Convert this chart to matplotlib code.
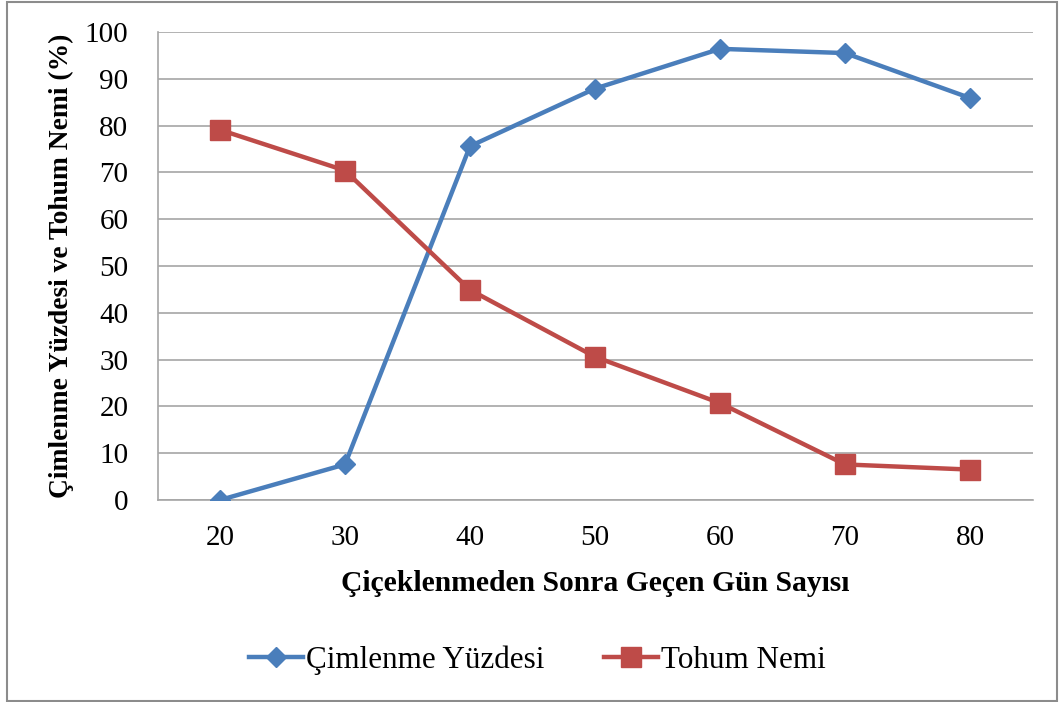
import matplotlib
matplotlib.use('Agg')
import matplotlib.pyplot as plt
from matplotlib.patches import Rectangle

plt.rcParams['font.family'] = ['Liberation Serif', 'DejaVu Serif']

days = ['20', '30', '40', '50', '60', '70', '80']
cimlenme = [0.0, 7.6, 75.6, 87.9, 96.4, 95.5, 85.9]
nem = [79.1, 70.4, 44.9, 30.6, 20.7, 7.6, 6.5]
y_ticks = [0, 10, 20, 30, 40, 50, 60, 70, 80, 90, 100]

blue = '#4a7ebb'
red = '#be4b48'
grid_c = '#a6a6a6'

fig = plt.figure(figsize=(10.59, 7.02), dpi=100)
ax = fig.add_axes([157.5 / 1059, 1 - 500 / 702, 875 / 1059, 468 / 702])

x = list(range(len(days)))
ax.plot(x, cimlenme, color=blue, linewidth=3.2, marker='D', markersize=10.5,
        label='Çimlenme Yüzdesi', zorder=3)
ax.plot(x, nem, color=red, linewidth=3.2, marker='s', markersize=14.5,
        label='Tohum Nemi', zorder=3)

ax.set_xlim(-0.5, len(days) - 0.5)
ax.set_ylim(0, 100)
ax.set_xticks(x)
ax.set_xticklabels(days)
ax.set_yticks(y_ticks)
ax.tick_params(axis='both', length=0, labelsize=21)
ax.tick_params(axis='y', pad=21)
ax.tick_params(axis='x', pad=18)

ax.grid(axis='y', color=grid_c, linewidth=1.2)
ax.set_axisbelow(True)
for side in ('top', 'right'):
    ax.spines[side].set_visible(False)
for side in ('left', 'bottom'):
    ax.spines[side].set_color(grid_c)
    ax.spines[side].set_linewidth(1.2)

ax.set_xlabel('Çiçeklenmeden Sonra Geçen Gün Sayısı', fontsize=21.3,
              fontweight='bold')
ax.set_ylabel('Çimlenme Yüzdesi ve Tohum Nemi (%)', fontsize=19.8,
              fontweight='bold')
ax.xaxis.set_label_coords(0.5, -70 / 468)
ax.yaxis.set_label_coords(-83 / 875, 0.5)

fig.legend(loc='center', bbox_to_anchor=(0.5076, 1 - 660 / 702), ncol=2,
           frameon=False, fontsize=22.4, handlelength=1.75, handletextpad=0.1,
           columnspacing=1.9)

fig.patches.append(Rectangle((7 / 1059, 1 / 702), 1050 / 1059, 699 / 702,
                             transform=fig.transFigure, fill=False,
                             edgecolor='#8c8c8c', linewidth=1.5))

fig.savefig('out.png', dpi=100)
